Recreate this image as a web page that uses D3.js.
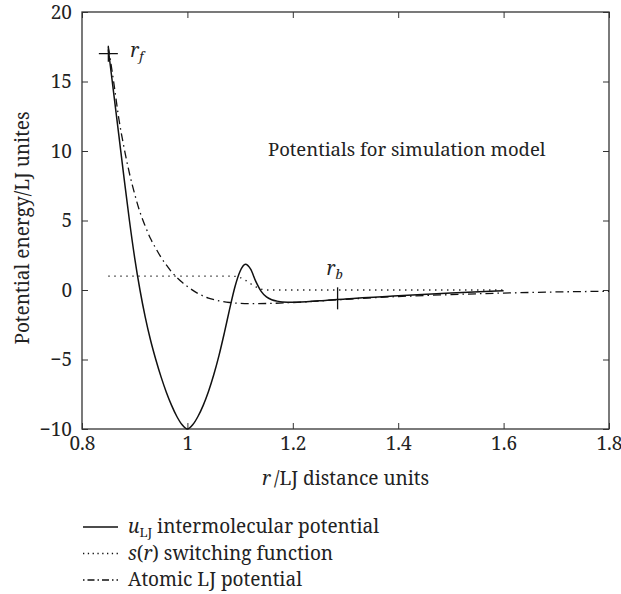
<!DOCTYPE html>
<html>
<head>
<meta charset="utf-8" />
<title></title>
<style>
body { margin: 0; background: #fff; }
.domain { display: none; }
.tick line { stroke: #333; stroke-width: 1px; }
.curve { fill: none; stroke: #111; }
</style>
</head>
<body>
<div id="container"></div>
<script src="https://cdn.jsdelivr.net/npm/d3@7"></script>
<script>
var width = 621,
    height = 594,
    margin = { left: 82, top: 12, right: 12, bottom: 165 },
    g_width = width - margin.left - margin.right,
    g_height = height - margin.top - margin.bottom,
    font = "'Noto Serif', 'Liberation Serif', serif";

// values
var r_u = [0.85, 0.86, 0.87, 0.88, 0.89, 0.90, 0.91, 0.92, 0.93, 0.94, 0.95, 0.96, 0.97, 0.98, 0.99, 1.00,
    1.01, 1.02, 1.03, 1.04, 1.05, 1.06, 1.07, 1.08, 1.09, 1.10, 1.11, 1.12, 1.13, 1.14, 1.15, 1.16, 1.17,
    1.18, 1.20, 1.25, 1.30, 1.40, 1.50, 1.60];
var u_lj = [17.3, 14.2, 11.1, 8.0, 5.0, 2.3, 0.0, -1.95, -3.6, -5.0, -6.25, -7.35, -8.3, -9.1, -9.7, -10,
    -9.7, -9.1, -8.3, -7.3, -6.1, -4.7, -3.1, -1.4, 0.2, 1.35, 1.85, 1.5, 0.6, -0.1, -0.5, -0.7, -0.8,
    -0.86, -0.88, -0.78, -0.64, -0.42, -0.22, -0.06];

var r_s = [0.85, 0.95, 1.05, 1.08, 1.09, 1.10, 1.11, 1.12, 1.13, 1.14, 1.15, 1.30, 1.45, 1.60];
var s_r = [1, 1, 1, 1, 0.98, 0.9, 0.7, 0.45, 0.22, 0.07, 0, 0, 0, 0];

var r_a = [0.85, 0.86, 0.87, 0.88, 0.89, 0.90, 0.91, 0.92, 0.93, 0.94, 0.95, 0.96, 0.97, 0.98, 0.99, 1.00,
    1.02, 1.04, 1.06, 1.08, 1.10, 1.12, 1.15, 1.20, 1.25, 1.30, 1.35, 1.40, 1.50, 1.60, 1.70, 1.80];
var atomic = [17.5, 15.0, 12.3, 10.2, 8.4, 6.9, 5.6, 4.6, 3.7, 3.0, 2.35, 1.8, 1.3, 0.9, 0.55, 0.25,
    -0.25, -0.58, -0.78, -0.9, -0.96, -0.98, -0.97, -0.9, -0.79, -0.67, -0.56, -0.47, -0.33, -0.22, -0.14, -0.09];

var x_ticks = [0.8, 1, 1.2, 1.4, 1.6, 1.8];
var y_ticks = [-10, -5, 0, 5, 10, 15, 20];

var r_f = [0.85, 17], r_b = [1.285, -0.6];

var svg = d3.select("#container")
    .append("svg")
    .attr("width", width)
    .attr("height", height);

var g = svg.append("g")
    .attr("transform", "translate(" + margin.left + "," + margin.top + ")");

var scale_x = d3.scaleLinear().domain([0.8, 1.8]).range([0, g_width]);
var scale_y = d3.scaleLinear().domain([-10, 20]).range([g_height, 0]);

// axes, ticks pointing inward on all four sides
g.append("g")
    .attr("transform", "translate(0," + g_height + ")")
    .call(d3.axisBottom(scale_x).tickValues(x_ticks).tickSizeInner(-6).tickSizeOuter(0).tickPadding(8)
        .tickFormat(d3.format("")));
g.append("g")
    .call(d3.axisTop(scale_x).tickValues(x_ticks).tickSizeInner(-6).tickSizeOuter(0).tickFormat(""));
g.append("g")
    .call(d3.axisLeft(scale_y).tickValues(y_ticks).tickSizeInner(-6).tickSizeOuter(0).tickPadding(10));
g.append("g")
    .attr("transform", "translate(" + g_width + ",0)")
    .call(d3.axisRight(scale_y).tickValues(y_ticks).tickSizeInner(-6).tickSizeOuter(0).tickFormat(""));

g.append("rect")
    .attr("width", g_width)
    .attr("height", g_height)
    .attr("fill", "none")
    .attr("stroke", "#333")
    .attr("stroke-width", 1.3);

var line_generator = function(xs) {
    return d3.line()
        .x(function(d, i) { return scale_x(xs[i]); })
        .y(function(d) { return scale_y(d); })
        .curve(d3.curveMonotoneX);
};

g.append("path").attr("class", "curve")
    .attr("d", line_generator(r_a)(atomic))
    .attr("stroke-width", 1.3)
    .attr("stroke-dasharray", "8,4,1.5,4");
g.append("path").attr("class", "curve")
    .attr("d", line_generator(r_s)(s_r))
    .attr("stroke-width", 1.3)
    .attr("stroke-dasharray", "1.3,4.7");
g.append("path").attr("class", "curve")
    .attr("d", line_generator(r_u)(u_lj))
    .attr("stroke-width", 1.5);

// r_f and r_b markers
g.append("path").attr("class", "curve").attr("stroke-width", 1.3)
    .attr("d", "M" + (scale_x(r_f[0]) - 9.5) + "," + scale_y(r_f[1]) + "h19" +
        "M" + scale_x(r_f[0]) + "," + (scale_y(r_f[1]) - 8) + "v16");
g.append("path").attr("class", "curve").attr("stroke-width", 1.3)
    .attr("d", "M" + scale_x(r_b[0]) + "," + (scale_y(r_b[1]) - 11) + "v22");

var lab_f = g.append("text")
    .attr("x", scale_x(r_f[0]) + 22)
    .attr("y", scale_y(r_f[1]) + 3);
lab_f.append("tspan").attr("font-style", "italic").text("r");
lab_f.append("tspan").attr("font-style", "italic").attr("font-size", "13px").attr("dy", 4).text("f");

var lab_b = g.append("text")
    .attr("x", scale_x(r_b[0]) - 11)
    .attr("y", scale_y(r_b[1]) - 23);
lab_b.append("tspan").attr("font-style", "italic").text("r");
lab_b.append("tspan").attr("font-style", "italic").attr("font-size", "13px").attr("dy", 4).text("b");

g.append("text")
    .attr("x", 186)
    .attr("y", 144)
    .attr("font-size", "18.5px")
    .text("Potentials for simulation model");

// axis titles
var xt = svg.append("text")
    .attr("x", margin.left + g_width / 2)
    .attr("y", 485)
    .attr("text-anchor", "middle");
xt.append("tspan").attr("font-style", "italic").text("r");
xt.append("tspan").text("\u2009/LJ distance units");

svg.append("text")
    .attr("transform", "translate(29," + 228 + ") rotate(-90)")
    .attr("text-anchor", "middle")
    .text("Potential energy/LJ unites");

// legend
var legend = svg.append("g").attr("transform", "translate(83,527)");
var rows = [
    { dash: null, parts: [["u", "italic", 19, 0], ["LJ", "normal", 13, 4], [" intermolecular potential", "normal", 19, -4]] },
    { dash: "1.3,3.5", parts: [["s", "italic", 19, 0], ["(", "normal", 19, 0], ["r", "italic", 19, 0], [") switching function", "normal", 19, 0]] },
    { dash: "1.5,3,7,3", parts: [["Atomic LJ potential", "normal", 19, 0]] }
];
rows.forEach(function(row, i) {
    var y = i * 26.5;
    legend.append("line")
        .attr("x1", 0).attr("x2", 35)
        .attr("y1", y).attr("y2", y)
        .attr("stroke", "#111")
        .attr("stroke-width", 1.3)
        .attr("stroke-dasharray", row.dash);
    var t = legend.append("text")
        .attr("x", 45)
        .attr("y", y + 6);
    row.parts.forEach(function(p) {
        t.append("tspan")
            .attr("font-style", p[1])
            .attr("font-size", p[2] + "px")
            .attr("dy", p[3])
            .text(p[0]);
    });
});

// one font for every text
svg.selectAll("text")
    .style("font-family", font)
    .style("fill", "#222")
    .attr("font-size", function() { return this.getAttribute("font-size") || "19px"; });
svg.selectAll(".tick text").attr("font-size", "19px");
</script>
</body>
</html>
